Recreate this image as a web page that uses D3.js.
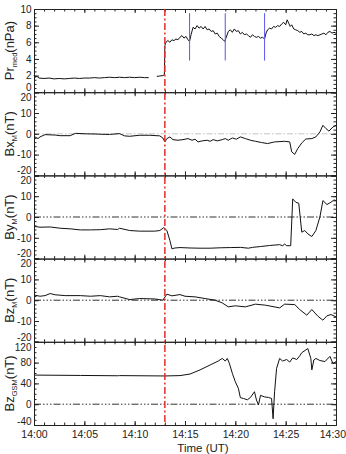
<!DOCTYPE html>
<html>
<head>
<meta charset="utf-8">
<script src="https://cdn.jsdelivr.net/npm/d3@7"></script>
<style>
  body { margin: 0; background: #fff; }
  svg { display: block; font-family: "Liberation Sans", Arial, sans-serif; }
  .axis path, .axis line { stroke: #222; }
  .axis text { fill: #222; font-size: 10.5px; }
</style>
</head>
<body>
<div id="chart"></div>
<script>
// ---- data (time = minutes after 14:00 UT) ----
var prTime = [0, 0.1, 0.3, 0.5, 1, 1.5, 2, 2.5, 3, 3.5, 4, 4.5, 5, 5.5, 6, 6.5, 7, 7.5, 8, 8.5, 9, 9.5, 10, 10.5, 11, 11.4, 11.8,
  12.2, 12.5, 12.8, 12.95, 13.0, 13.1, 13.3, 13.5, 13.7, 13.9, 14.1, 14.3, 14.5, 14.7, 14.9, 15.1, 15.3, 15.45, 15.6, 15.8,
  16.0, 16.2, 16.4, 16.6, 16.8, 17.0, 17.2, 17.4, 17.6, 17.8, 18.0, 18.2, 18.4, 18.6, 18.8, 18.95, 19.1, 19.3, 19.5, 19.7,
  19.9, 20.1, 20.3, 20.5, 20.7, 20.9, 21.1, 21.3, 21.5, 21.7, 21.9, 22.1, 22.3, 22.5, 22.7, 22.9, 23.05, 23.2, 23.4, 23.6,
  23.8, 24.0, 24.2, 24.4, 24.6, 24.8, 25.0, 25.15, 25.3, 25.45, 25.6, 25.8, 26.0, 26.2, 26.4, 26.6, 26.8, 27.0, 27.2, 27.4,
  27.6, 27.8, 28.0, 28.2, 28.4, 28.6, 28.8, 29.0, 29.2, 29.4, 29.6, 29.8, 30.0];
var prValue = [2.0, 1.8, 1.9, 1.7, 1.65, 1.7, 1.6, 1.65, 1.6, 1.65, 1.7, 1.65, 1.7, 1.7, 1.75, 1.7, 1.75, 1.8, 1.75, 1.8, 1.75, 1.8, 1.75, 1.8, 1.75, 1.75, null,
  1.9, 1.95, 2.0, 2.1, 5.6, 6.0, 6.2, 6.0, 6.3, 6.2, 6.4, 6.3, 6.6, 6.8, 6.5, 6.7, 6.3, 6.1, 6.9, 7.8,
  7.6, 8.0, 7.7, 7.9, 7.6, 7.9, 7.5, 7.6, 7.3, 7.4, 7.0, 7.1, 6.7, 6.5, 6.3, 6.1, 6.6, 7.3, 7.5, 7.2,
  7.6, 7.3, 7.4, 7.0, 7.2, 6.9, 7.0, 6.8, 6.6, 6.9, 6.7, 6.6, 6.7, 6.5, 6.6, 6.4, 7.1, 7.5, 7.7, 7.6,
  7.9, 7.8, 8.0, 7.9, 8.2, 8.4, 8.1, 8.7, 8.3, 7.9, 8.1, 7.6, 7.5, 7.4, 7.2, 7.3, 7.0, 7.1, 6.9, 6.9,
  7.0, 6.8, 6.9, 6.8, 6.9, 7.0, 7.1, 6.9, 7.2, 7.3, 7.1, 7.2, 7.1];

var bxTime = [0.1, 0.4, 0.6, 1.1, 2.1, 2.6, 3.6, 4.1, 5.1, 6.1, 7.1, 7.5, 8.5, 9.0, 9.5, 10.5, 11.5, 12.5, 12.8, 13.0, 13.2,
  13.5, 13.8, 14.3, 14.8, 15.3, 15.7, 16.0, 16.3, 16.7, 17.2, 17.5, 17.8, 18.2, 18.7, 19.0, 19.3, 19.7, 20.1, 20.5, 21.0,
  21.5, 22.0, 22.6, 23.2, 23.9, 24.9, 25.4, 25.6, 25.9, 26.2, 26.6, 27.0, 27.6, 28.0, 28.4, 28.7, 29.0, 29.3, 29.7, 30.0];
var bxValue = [-1.5, -2.3, -1.5, -0.4, -0.6, -0.9, -0.9, 0.2, 0, -0.1, -0.3, -0.3, 0.1, -1.0, -1.2, -0.7, -0.7, -1.0, -2.0, -3.9, -2.3,
  -1.5, -2.8, -3.1, -2.8, -2.3, -3.1, -2.6, -3.9, -3.4, -3.1, -3.6, -2.8, -3.4, -2.8, -2.3, -3.1, -2.0, -2.6, -1.5, -2.3,
  -3.1, -3.6, -4.2, -4.7, -3.9, -3.6, -3.9, -8.7, -9.9, -7.1, -4.4, -2.5, -2.3, -1.5, 0.9, 4.1, 2.5, 1.3, 3.3, 4.1];

var byTime = [0.1, 0.6, 1.6, 2.6, 3.6, 4.6, 5.6, 6.6, 7.5, 8.3, 8.5, 9.5, 10.5, 12.0, 12.5, 12.9, 13.2, 13.5, 13.7, 14.0,
  14.5, 15.5, 16.5, 17.5, 18.5, 19.5, 20.5, 21.3, 21.7, 22.5, 23.4, 24.4, 24.7, 24.9, 25.1, 25.5, 25.7, 26.0, 26.3,
  26.6, 26.9, 27.2, 27.6, 28.0, 28.4, 28.7, 29.1, 29.5, 29.8, 30.0];
var byValue = [-4.6, -4.9, -4.8, -5.4, -5.7, -6.2, -6.2, -6.1, -5.7, -6.0, -5.4, -6.5, -6.8, -6.8, -6.5, -5.1, -6.5, -11.3, -15.3, -14.9,
  -14.7, -14.9, -15.0, -15.0, -14.8, -14.7, -14.6, -15.0, -14.6, -14.2, -13.7, -13.3, -13.8, -13.0, -13.8, -13.8, 8.7, 7.1, 6.6,
  -7.3, -6.5, -8.1, -9.4, -6.5, 0, 7.9, 6.0, 7.1, 8.2, 7.9];

var bzTime = [0.1, 0.6, 1.1, 1.6, 2.1, 3.1, 4.6, 5.6, 6.6, 7.5, 8.3, 8.5, 9.5, 10.5, 12.0, 12.8, 13.2, 13.7, 14.5, 15.0,
  16.0, 17.0, 18.0, 18.7, 19.3, 20.0, 21.0, 22.0, 23.0, 24.4, 24.9, 25.9, 26.4, 27.1, 27.6, 28.2, 28.7, 29.1, 29.5, 30.0];
var bzValue = [2.4, 1.9, 2.2, 3.2, 2.6, 2.2, 2.2, 1.9, 2.2, 1.6, 1.9, 1.6, 0.3, 0.8, 0.6, 0, 2.9, 2.1, 2.7, 1.9,
  1.6, 0.8, 0, -1.3, -3.2, -2.7, -3.2, -1.9, -2.4, -3.7, -1.9, -2.1, -4.5, -7.2, -4.5, -7.7, -9.6, -7.5, -6.9, -8.0];

var gsmTime = [0.1, 4.6, 8.3, 8.5, 13.0, 14.5, 15.5, 16.5, 17.5, 18.3, 18.7, 19.0, 19.2, 19.4, 19.7, 20.0, 20.3, 20.5, 20.8,
  21.2, 21.5, 21.9, 22.1, 22.3, 22.5, 22.9, 23.3, 23.6, 23.75, 23.9, 24.1, 24.4, 24.7, 25.1, 25.4, 25.7, 26.1, 26.4, 26.6,
  27.2, 27.5, 27.6, 27.8, 28.0, 28.4, 28.9, 29.4, 29.7, 30.0];
var gsmValue = [56, 55.3, 54.7, 55, 54.3, 55, 58, 66, 75.5, 83, 88, 83, 88, 79, 59.5, 43, 30.6, 12.6, 11,
  8.5, 13, 24, 8, -1.5, 17, 14, 13, 11, -28, 24, 69, 88, 83, 86, 81, 89, 86, 93, 99,
  107, 88, 66, 85, 88, 84, 82, 92, 78, 82];

var shockTime = 13.0;
var blueTimes = [15.45, 19.0, 22.9];
var timeTicks = [0, 5, 10, 15, 20, 25, 30];

var panels = [
  { label: ["Pr", "med", "(nPa)"], t: prTime, v: prValue, domain: [0, 10], major: [0, 2, 4, 6, 8, 10], minorStep: 0.5, zero: null },
  { label: ["Bx", "M", "(nT)"], t: bxTime, v: bxValue, domain: [-20, 20], major: [-20, -10, 0, 10, 20], minorStep: 2, zero: "light" },
  { label: ["By", "M", "(nT)"], t: byTime, v: byValue, domain: [-20, 20], major: [-20, -10, 0, 10, 20], minorStep: 2, zero: "dark" },
  { label: ["Bz", "M", "(nT)"], t: bzTime, v: bzValue, domain: [-20, 20], major: [-20, -10, 0, 10, 20], minorStep: 2, zero: "dark" },
  { label: ["Bz", "GSM", "(nT)"], t: gsmTime, v: gsmValue, domain: [-40, 120], major: [-40, 0, 40, 80, 120], minorStep: 10, zero: "dark" }
];

// ---- layout ----
var W = 346, H = 454;
var left = 34, right = 336, top0 = 9, panelH = 83.2;

var svg = d3.select("#chart").append("svg")
  .attr("width", W).attr("height", H);

var x = d3.scaleLinear().domain([0, 30]).range([left, right]);
var minuteTicks = d3.range(0, 31, 1);

panels.forEach(function(p, i) {
  var y0 = top0 + i * panelH, y1 = y0 + panelH;
  var y = d3.scaleLinear().domain(p.domain).range([y1, y0]);
  var minor = d3.range(p.domain[0], p.domain[1] + 1e-9, p.minorStep);
  var g = svg.append("g");

  // zero reference line
  if (p.zero) {
    g.append("line")
      .attr("x1", left).attr("x2", right)
      .attr("y1", y(0)).attr("y2", y(0))
      .attr("stroke", p.zero === "light" ? "#b5b5b5" : "#333")
      .attr("stroke-width", p.zero === "light" ? 0.8 : 1)
      .attr("stroke-dasharray", p.zero === "light" ? "6,2,1.5,2" : "7,2,1.5,2,1.5,2,1.5,2");
  }

  // data line
  var pts = p.t.map(function(t, k) { return { t: t, v: p.v[k] }; });
  g.append("path")
    .datum(pts)
    .attr("fill", "none")
    .attr("stroke", "#111")
    .attr("stroke-width", 1)
    .attr("d", d3.line()
      .defined(function(d) { return d.v !== null; })
      .x(function(d) { return x(d.t); })
      .y(function(d) { return y(d.v); }));

  // y axes, ticks inward
  var yl = g.append("g").attr("class", "axis").attr("transform", "translate(" + left + ",0)")
    .call(d3.axisLeft(y).tickValues(p.major).tickSize(-5).tickPadding(2.5)
      .tickFormat(function(d) { return String(d); }));
  // labels at the panel edges are pushed inward, like the stacked pairs in the original
  yl.selectAll(".tick text")
    .style("font-size", "10px")
    .attr("y", function(d) {
      if (i > 0 && d === p.domain[1]) return 5;
      if (d === p.domain[0]) return i < panels.length - 1 ? -5 : -4;
      return 0;
    });
  g.append("g").attr("class", "axis").attr("transform", "translate(" + left + ",0)")
    .call(d3.axisLeft(y).tickValues(minor).tickSize(-2.5).tickFormat(""))
    .select(".domain").remove();
  g.append("g").attr("class", "axis").attr("transform", "translate(" + right + ",0)")
    .call(d3.axisRight(y).tickValues(p.major).tickSize(-5).tickFormat(""));
  g.append("g").attr("class", "axis").attr("transform", "translate(" + right + ",0)")
    .call(d3.axisRight(y).tickValues(minor).tickSize(-2.5).tickFormat(""))
    .select(".domain").remove();

  // x axes, top and bottom, ticks inward
  var last = i === panels.length - 1;
  var xb = g.append("g").attr("class", "axis").attr("transform", "translate(0," + y1 + ")")
    .call(d3.axisBottom(x).tickValues(timeTicks).tickSize(-4).tickPadding(6)
      .tickFormat(last ? function(d) { return "14:" + d3.format("02d")(d); } : ""));
  // keep the last time label inside the window
  xb.selectAll(".tick text").filter(function(d) { return d === 30; })
    .attr("text-anchor", "end").attr("x", W - right - 0.5);
  g.append("g").attr("class", "axis").attr("transform", "translate(0," + y1 + ")")
    .call(d3.axisBottom(x).tickValues(minuteTicks).tickSize(-2.5).tickFormat(""))
    .select(".domain").remove();
  g.append("g").attr("class", "axis").attr("transform", "translate(0," + y0 + ")")
    .call(d3.axisTop(x).tickValues(timeTicks).tickSize(-4).tickFormat(""));
  g.append("g").attr("class", "axis").attr("transform", "translate(0," + y0 + ")")
    .call(d3.axisTop(x).tickValues(minuteTicks).tickSize(-2.5).tickFormat(""))
    .select(".domain").remove();

  // rotated y label with subscript
  var lab = g.append("text")
    .attr("transform", "translate(14," + ((y0 + y1) / 2) + ") rotate(-90)")
    .attr("text-anchor", "middle")
    .attr("font-size", "13px")
    .attr("fill", "#222");
  lab.append("tspan").text(p.label[0]);
  lab.append("tspan").attr("font-size", "7.5px").attr("dy", 2.5).text(p.label[1]);
  lab.append("tspan").attr("dy", -2.5).text(p.label[2]);

  // blue markers in the pressure panel
  if (i === 0) {
    g.selectAll(".mark").data(blueTimes).enter().append("line")
      .attr("x1", function(d) { return x(d); }).attr("x2", function(d) { return x(d); })
      .attr("y1", y(9.5)).attr("y2", y(3.8))
      .attr("stroke", "#6464ee").attr("stroke-width", 1.1);
  }
});

// shock arrival, red dash-dot across all panels
svg.append("line")
  .attr("x1", x(shockTime)).attr("x2", x(shockTime))
  .attr("y1", top0).attr("y2", top0 + 5 * panelH)
  .attr("stroke", "#e2302a").attr("stroke-width", 1.5)
  .attr("stroke-dasharray", "7,2.5,2,2.5");

svg.append("text")
  .attr("x", (left + right) / 2 + 18).attr("y", 452)
  .attr("text-anchor", "middle")
  .attr("font-size", "11.5px")
  .attr("fill", "#222")
  .text("Time (UT)");
</script>
</body>
</html>
